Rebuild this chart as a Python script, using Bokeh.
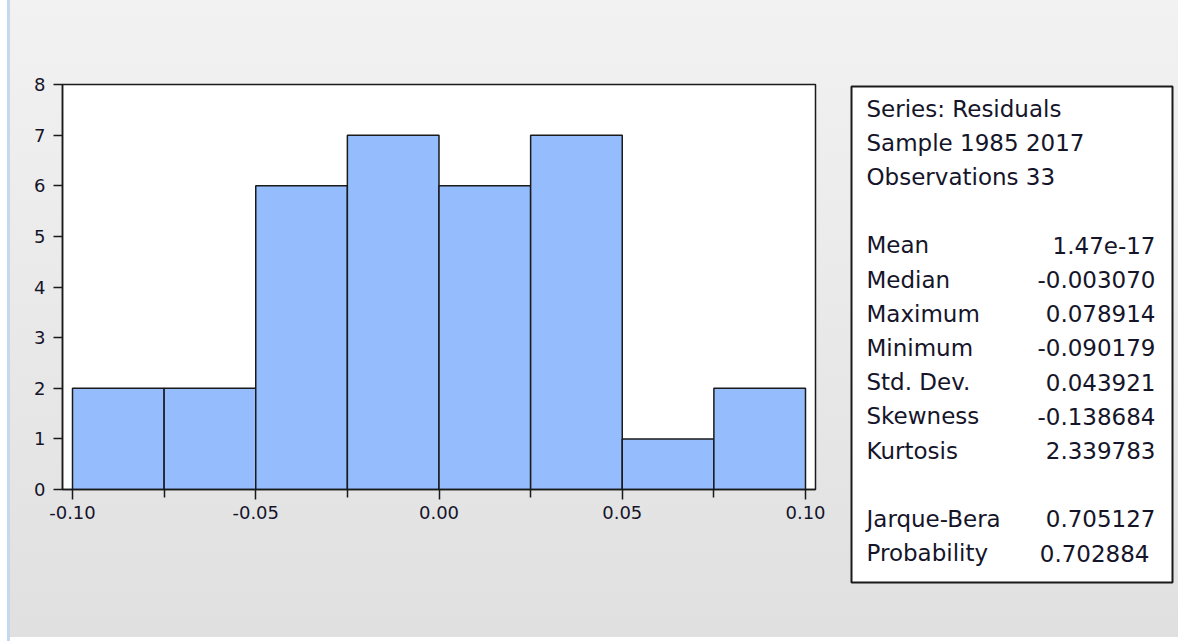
from bokeh.plotting import figure
from bokeh.models import Range1d, FixedTicker, NumeralTickFormatter, ColumnDataSource
from bokeh.layouts import row
from bokeh.core.properties import value
from bokeh.embed import file_html
from bokeh.resources import INLINE

# ---- data ----
bin_edges = [-0.10, -0.075, -0.05, -0.025, 0.0, 0.025, 0.05, 0.075, 0.10]
counts = [2, 2, 6, 7, 6, 7, 1, 2]
x_major = [-0.10, -0.05, 0.00, 0.05, 0.10]
x_minor = [-0.075, -0.025, 0.025, 0.075]
y_ticks = [0, 1, 2, 3, 4, 5, 6, 7, 8]

header_lines = ["Series: Residuals", "Sample 1985 2017", "Observations 33"]
stat_names = ["Mean", "Median", "Maximum", "Minimum", "Std. Dev.", "Skewness", "Kurtosis"]
stat_values = ["1.47e-17", "-0.003070", "0.078914", "-0.090179", "0.043921", "-0.138684", "2.339783"]
test_names = ["Jarque-Bera", "Probability"]
test_values = ["0.705127", "0.702884"]

FONT = "DejaVu Sans"
TXT = "#15152a"
H = 641
W1 = 835
W2 = 1178 - W1

# ---- histogram ----
k = 733 / 0.2
p = figure(width=W1, height=H, output_backend="svg", toolbar_location=None,
           x_range=Range1d(-0.10 - 10 / k, 0.10 + 10 / k), y_range=Range1d(0, 8),
           min_border_left=62, min_border_right=W1 - 815, min_border_top=84, min_border_bottom=H - 489)
p.frame_align = False
p.border_fill_alpha = 0
p.background_fill_color = "white"
p.outline_line_color = "#1a1a1a"
p.outline_line_width = 1.5
p.xgrid.visible = False
p.ygrid.visible = False

src = ColumnDataSource(dict(left=bin_edges[:-1], right=bin_edges[1:],
                            top=counts, bottom=[0] * len(counts)))
p.quad(left="left", right="right", top="top", bottom="bottom", source=src,
       fill_color="#95bcfd", line_color="#1a1a1a", line_width=1.5)

p.xaxis.ticker = FixedTicker(ticks=x_major, minor_ticks=x_minor)
p.xaxis.formatter = NumeralTickFormatter(format="0.00")
p.yaxis.ticker = FixedTicker(ticks=y_ticks)
for ax in (p.xaxis, p.yaxis):
    ax.axis_line_color = "#1a1a1a"
    ax.axis_line_width = 1.5
    ax.major_tick_line_color = "#1a1a1a"
    ax.major_tick_line_width = 1.5
    ax.minor_tick_line_color = "#1a1a1a"
    ax.minor_tick_line_width = 1.5
    ax.major_tick_in = 0
    ax.minor_tick_in = 0
    ax.major_label_text_font = FONT
    ax.major_label_text_font_size = "18px"
    ax.major_label_text_color = TXT
p.xaxis.major_tick_out = 10
p.xaxis.minor_tick_out = 8
p.xaxis.major_label_standoff = 6
p.yaxis.major_tick_out = 9
p.yaxis.minor_tick_out = 0
p.yaxis.major_label_standoff = 8

# ---- statistics box ----
box_left, box_right, box_top, box_bottom = 851, 1172, 86, 582
fw = box_right - box_left
fh = box_bottom - box_top
s = figure(width=W2, height=H, output_backend="svg", toolbar_location=None,
           x_range=Range1d(0, fw), y_range=Range1d(fh, 0),
           x_axis_location=None, y_axis_location=None,
           min_border_left=box_left - W1, min_border_right=W1 + W2 - box_right,
           min_border_top=box_top, min_border_bottom=H - box_bottom)
s.frame_align = False
s.border_fill_alpha = 0
s.background_fill_color = "white"
s.outline_line_color = "#1a1a1a"
s.outline_line_width = 2
s.xgrid.visible = False
s.ygrid.visible = False

step = 34.2
y0 = 108 - box_top
left_x = 866 - box_left
right_x = 1155 - box_left

rows_left = header_lines + stat_names + test_names
rows_idx = [0, 1, 2] + [4 + i for i in range(len(stat_names))] + [12, 13]
left_src = ColumnDataSource(dict(x=[left_x] * len(rows_left),
                                 y=[y0 + step * i for i in rows_idx],
                                 t=rows_left))
s.text(x="x", y="y", text="t", source=left_src, text_font=value(FONT),
       text_font_size="23px", text_color=TXT, text_align="left", text_baseline="middle")

vals = stat_values + test_values
vals_idx = [4 + i for i in range(len(stat_values))] + [12, 13]
vals_x = [right_x] * len(stat_values) + [right_x, right_x - 6]
val_src = ColumnDataSource(dict(x=vals_x, y=[y0 + step * i for i in vals_idx], t=vals))
s.text(x="x", y="y", text="t", source=val_src, text_font=value(FONT),
       text_font_size="23px", text_color=TXT, text_align="right", text_baseline="middle")

layout = row(p, s, spacing=0, width=W1 + W2, height=H,
             styles={"background": "linear-gradient(to right, #ffffff 0px, #ffffff 7px, #c6d8ee 7px, #c6d8ee 10px, transparent 10px), "
                                   "linear-gradient(#f2f2f2 0px, #e0e0e0 637px, #ffffff 637px)"})

open("out.html", "w").write(file_html(layout, INLINE))
